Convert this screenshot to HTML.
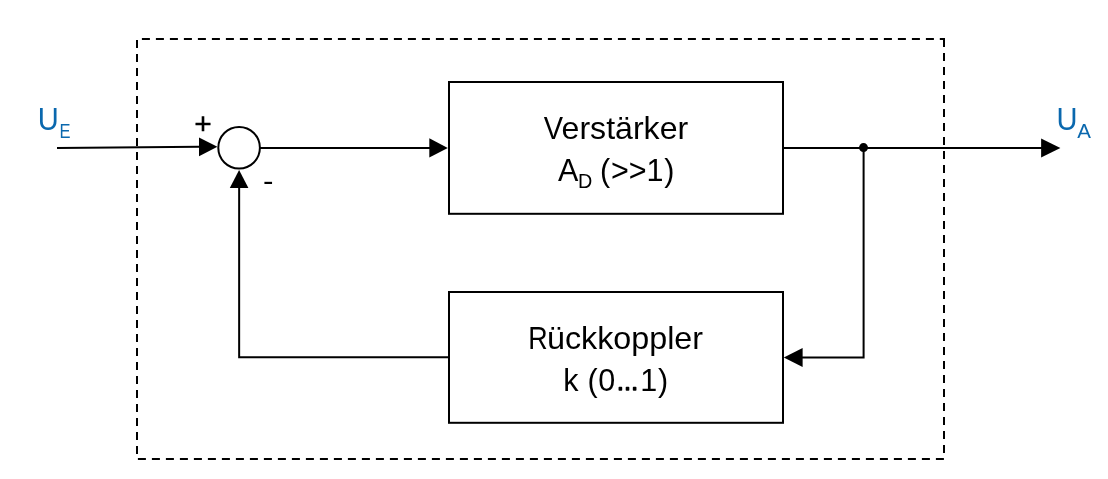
<!DOCTYPE html>
<html lang="de">
<head>
<meta charset="utf-8">
<title>Gegenkopplung Blockschaltbild</title>
<style>
html,body{margin:0;padding:0;background:#fff;}
body{width:1108px;height:479px;overflow:hidden;}
svg{display:block;will-change:transform;}
text{font-family:"Liberation Sans",sans-serif;}
</style>
</head>
<body>
<svg width="1108" height="479" viewBox="0 0 1108 479">
<rect x="0" y="0" width="1108" height="479" fill="#ffffff"/>
<!-- dashed frame -->
<g stroke="#000" stroke-width="2" fill="none" stroke-dasharray="8 6">
<line x1="141.9" y1="39" x2="945" y2="39"/>
<line x1="944" y1="39.1" x2="944" y2="458"/>
<line x1="137.9" y1="459" x2="944" y2="459"/>
<line x1="137" y1="39.9" x2="137" y2="458"/>
</g>
<path d="M939.9 39H944V46" stroke="#000" stroke-width="2" fill="none"/>
<!-- boxes -->
<g stroke="#000" stroke-width="2" fill="#fff">
<rect x="449" y="82" width="334" height="131.8"/>
<rect x="449" y="292" width="334" height="130.8"/>
</g>
<!-- connectors -->
<g stroke="#000" stroke-width="2" fill="none">
<line x1="57" y1="148" x2="200" y2="146.8"/>
<line x1="260" y1="147.95" x2="430" y2="147.95"/>
<line x1="783" y1="147.95" x2="1042" y2="147.95"/>
<polyline points="863.6,147.95 863.6,357.5 802,357.5"/>
<polyline points="449,357.3 239.15,357.3 239.15,187"/>
<circle cx="239.1" cy="147.75" r="20.8" fill="#fff"/>
</g>
<g fill="#000">
<polygon points="217.4,146.7 199,137.6 199,156.2"/>
<polygon points="447.8,147.95 429.3,138.3 429.3,157.6"/>
<polygon points="1060.4,147.95 1041.1,138.4 1041.1,157.5"/>
<polygon points="783.8,357.4 802.6,347.9 802.6,367"/>
<polygon points="239.1,169.9 229.8,188 248.4,188"/>
<circle cx="863.5" cy="147.6" r="4.5"/>
</g>
<!-- labels -->
<g fill="#0a68ae">
<text id="ue" x="37.8" y="130" font-size="31"><tspan textLength="21" lengthAdjust="spacingAndGlyphs">U</tspan><tspan id="ue2" x="59.6" dy="7.6" font-size="20.5" textLength="11" lengthAdjust="spacingAndGlyphs">E</tspan></text>
<text id="ua" x="1056.4" y="130" font-size="31"><tspan textLength="21" lengthAdjust="spacingAndGlyphs">U</tspan><tspan id="ua2" dx="-0.2" dy="7.6" font-size="20.5">A</tspan></text>
</g>
<g fill="#000">
<text id="plus" x="194.3" y="134.3" font-size="30" stroke="#000" stroke-width="0.35">+</text>
<text id="minus" x="262.9" y="190.4" font-size="28" textLength="10.45" lengthAdjust="spacingAndGlyphs">-</text>
<text id="t1" y="138.6" font-size="30.5"><tspan x="543.7" textLength="19.3" lengthAdjust="spacingAndGlyphs">V</tspan><tspan x="561.6" textLength="126.57" lengthAdjust="spacingAndGlyphs">erstärker</tspan></text>
<text id="t2" y="181" font-size="30.5"><tspan x="558">A</tspan><tspan id="t2d" x="578" dy="7.2" font-size="19.8">D</tspan><tspan id="t2r" dy="-7.2" x="592 600 611 628.8 646.4 664.3"> (&gt;&gt;1)</tspan></text>
<text id="t3" y="348.6" font-size="30.5"><tspan x="528.2" textLength="19.4" lengthAdjust="spacingAndGlyphs">R</tspan><tspan x="547" textLength="156.06" lengthAdjust="spacingAndGlyphs">ückkoppler</tspan></text>
<text id="t4" y="390.8" font-size="30.5"><tspan x="563.3 580 587.5 598.3">k (0</tspan><tspan x="616.3" dy="-0.6" font-size="22.5" stroke="#000" stroke-width="1.5" stroke-linejoin="round">…</tspan><tspan dy="0.6" x="640.3 658">1)</tspan></text>
</g>
</svg>
</body>
</html>
